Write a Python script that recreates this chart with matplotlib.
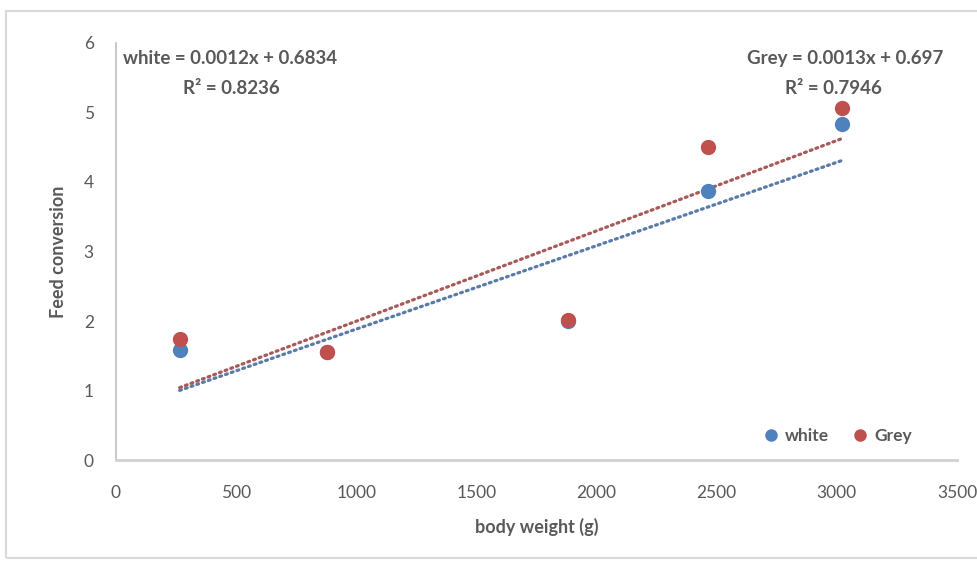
import matplotlib.pyplot as plt
import numpy as np
from matplotlib.patches import Rectangle

# data
weight = [265, 880, 1880, 2465, 3020]
white = [1.58, 1.55, 2.0, 3.87, 4.83]
grey = [1.74, 1.55, 2.01, 4.50, 5.06]

# trend lines (as printed on the chart)
white_fit = [0.0012, 0.6834]
grey_fit = [0.0013, 0.697]
white_r2 = 0.8236
grey_r2 = 0.7946

blue = '#4F81BD'
red = '#C0504D'
txt = '#595959'

plt.rcParams['font.family'] = ['Lato', 'DejaVu Sans']

fig = plt.figure(figsize=(9.77, 5.61), dpi=100)
fig.patches.append(Rectangle((6/977, 3/561), 1.0, 1 - 14/561, transform=fig.transFigure,
                             fill=False, edgecolor='#D9D9D9', linewidth=1.5))
ax = fig.add_axes([0.1187, 0.180, 0.9795 - 0.1187, 0.9234 - 0.180])

xs = np.array([min(weight), max(weight)])
ax.plot(xs, white_fit[0] * xs + white_fit[1], linestyle=(0, (0.6, 1.3)), color='#5A7AA8',
        linewidth=2.3, dash_capstyle='round', zorder=2)
ax.plot(xs, grey_fit[0] * xs + grey_fit[1], linestyle=(0, (0.6, 1.3)), color='#A85A5A',
        linewidth=2.3, dash_capstyle='round', zorder=2)

ax.plot(weight, white, 'o', color=blue, markersize=10, label='white', zorder=3)
ax.plot(weight, grey, 'o', color=red, markersize=10, label='Grey', zorder=4)

ax.set_xlim(0, 3500)
ax.set_ylim(0, 6)
ax.set_xticks(range(0, 3501, 500))
ax.set_yticks(range(0, 7))

for s in ['top', 'right']:
    ax.spines[s].set_visible(False)
ax.spines['left'].set_color('#BFBFBF')
ax.spines['bottom'].set_color('#D0D0D0')
ax.spines['left'].set_linewidth(1.2)
ax.spines['bottom'].set_linewidth(2)
ax.tick_params(length=0, labelsize=12.5, labelcolor=txt)
ax.tick_params(axis='y', pad=16)
ax.tick_params(axis='x', pad=18)

ax.set_xlabel('body weight (g)', fontsize=13, fontweight='bold', color=txt, labelpad=12)
ax.set_ylabel('Feed conversion', fontsize=13, fontweight='bold', color=txt, labelpad=12)

ax.text(30, 5.77, 'white = %.4fx + %.4f' % (white_fit[0], white_fit[1]), fontsize=13.5,
        fontweight='bold', color=txt, va='center', ha='left')
ax.text(480, 5.35, 'R² = %.4f' % white_r2, fontsize=13.5, fontweight='bold', color=txt,
        va='center', ha='center')
ax.text(3445, 5.77, 'Grey = %.4fx + %.3f' % (grey_fit[0], grey_fit[1]), fontsize=13.5,
        fontweight='bold', color=txt, va='center', ha='right')
ax.text(2985, 5.35, 'R² = %.4f' % grey_r2, fontsize=13.5, fontweight='bold', color=txt,
        va='center', ha='center')

leg = ax.legend(loc='lower right', ncol=2, frameon=False, handletextpad=-0.2,
                columnspacing=0.8, markerscale=0.8, labelcolor=txt,
                prop={'size': 12.5, 'weight': 'bold'}, bbox_to_anchor=(0.965, 0.0))

fig.savefig('out.png', dpi=100)
